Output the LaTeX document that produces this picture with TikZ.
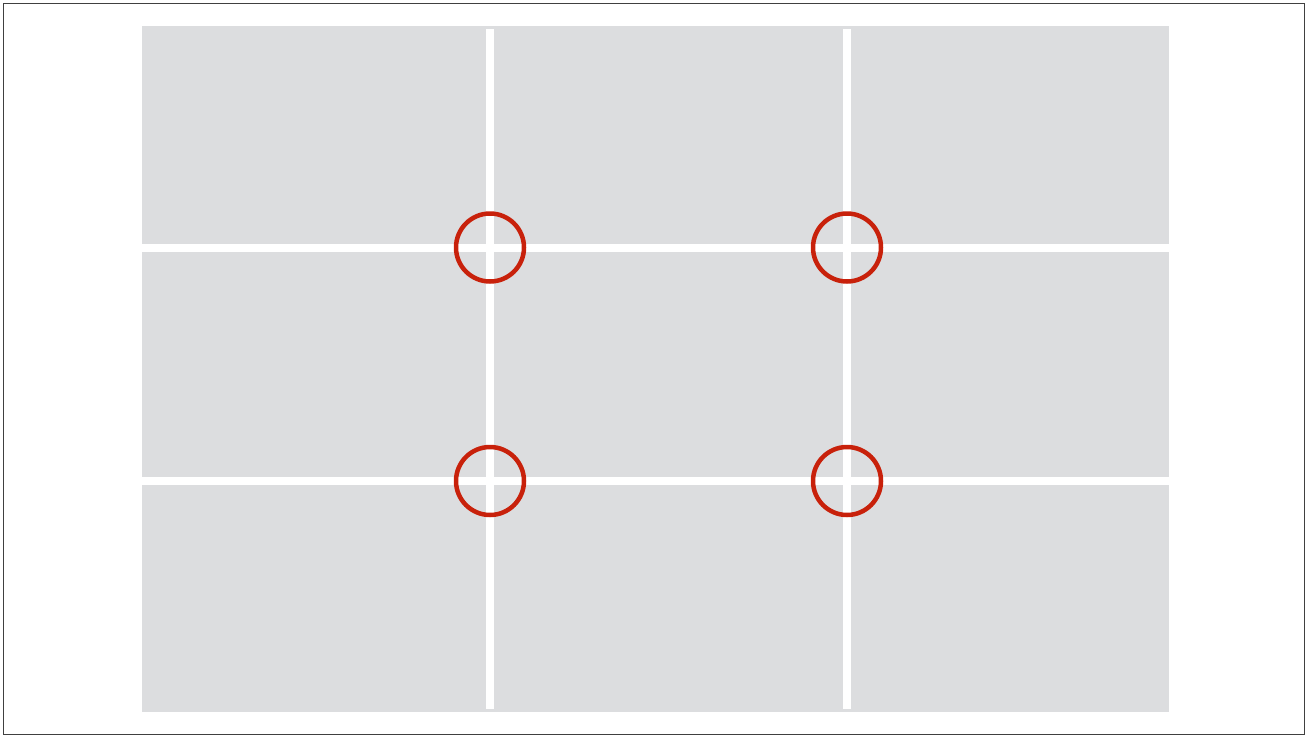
\documentclass[tikz,border=0pt]{standalone}
\usepackage{tikz}
\usepackage{xcolor}
\definecolor{panelgray}{HTML}{DCDDDF}
\definecolor{markred}{HTML}{C8210B}

\begin{document}
\begin{tikzpicture}[x=1pt,y=-1pt,
  gridline/.style={white,line width=7.5pt},
  focus/.style={circle,draw=markred,line width=4.5pt,minimum size=68pt,inner sep=0pt}]
  \useasboundingbox (0,0) rectangle (1307,737);
  \draw[line width=1pt,black!75] (3.5,3) rectangle (1304,734.5);
  \fill[panelgray] (142,26) rectangle (1169,712);
  % thirds
  \draw[gridline] (490,29) -- (490,709);
  \draw[gridline] (847,29) -- (847,709);
  \draw[gridline] (142,248) -- (1169,248);
  \draw[gridline] (142,481) -- (1169,481);
  % power points
  \node[focus] (tl) at (490,247.5) {};
  \node[focus] (tr) at (847,247.5) {};
  \node[focus] (bl) at (490,481) {};
  \node[focus] (br) at (847,481) {};
\end{tikzpicture}
\end{document}
